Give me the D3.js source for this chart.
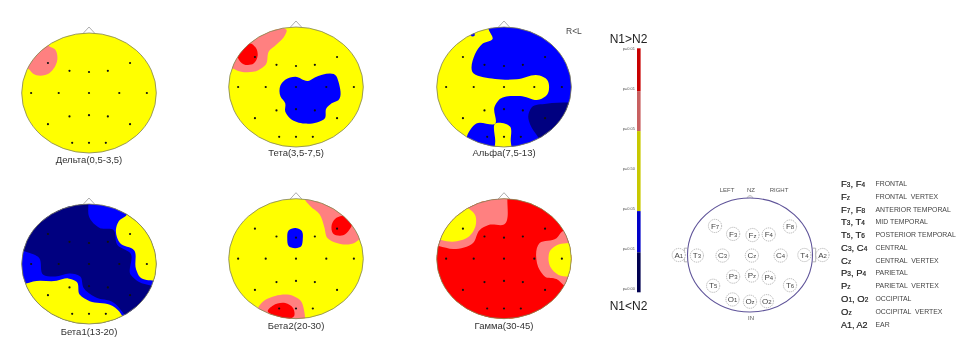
<!DOCTYPE html>
<html><head><meta charset="utf-8">
<script src="https://cdn.jsdelivr.net/npm/d3@7"></script>
<style>
html,body{margin:0;padding:0;background:#fff}
svg{display:block;font-family:"Liberation Sans",Arial,sans-serif;filter:blur(0.5px)}
</style></head><body>
<svg id="chart" width="964" height="358"></svg>
<script>
// electrode sites of the 10-20 montage, % of head radius
const sites = [[-61,-50],[-29,-37],[0,-35],[28,-37],[61,-50],[-86,0],[-45,0],[0,0],[45,0],[86,0],
  [-29,39],[0,37],[28,39],[-61,52],[61,52],[-25,83],[0,83],[25,83]];
const classColors = {yellow:"#ffff00",pink:"#ff8080",red:"#ff0000",blue:"#0000ff",navy:"#000080"};

const deltaRegions = [
 ["pink",[[-60,-79],[-50,-72],[-47,-56],[-53,-40],[-59,-33],[-83,-32],[-89,-39],[-110,-50],[-100,-100],[-60,-95]]]
];
const thetaRegions = [
 ["pink",[[-19,-99],[-14,-95],[-16,-87],[-29,-71],[-40,-60],[-45,-37],[-56,-28],[-83,-26],[-94,-31],[-110,-40],[-100,-110],[-19,-115]]],
 ["red",[[-69,-73],[-59,-64],[-57,-52],[-63,-39],[-78,-38],[-86,-48],[-87,-54],[-78,-64]]],
 ["blue",[[-23,-3],[-16,-12],[-1,-17],[18,-10],[28,-16],[60,-18],[63,-9],[63,22],[53,27],[45,36],[43,52],[31,59],[13,61],[-9,52],[-16,41],[-16,27],[-23,16]]]
];
const alphaRegions = [
 ["blue",[[-23,-97],[-17,-80],[-32,-72],[-43,-55],[-47,-25],[-18,-14],[19,-13],[53,-19],[64,-12],[64,13],[53,21],[24,15],[-8,22],[-14,33],[-13,61],[-41,61],[-55,82],[-55,115],[120,115],[120,-115],[-23,-115]]],
 ["yellow",[[-13,61],[9,66],[10,90],[11,115],[-13,115],[-13,90]]],
 ["navy",[[41,34],[63,28],[96,26],[120,26],[120,120],[60,100],[51,84],[39,63],[36,49]]],
 ["blue",[[-49,-90],[-44,-90],[-44,-85],[-49,-85]]]
];
const beta1Regions = [
 ["blue",[[-120,-120],[120,-120],[120,120],[-120,120]]],
 ["navy",[[-1,-99],[0,-79],[16,-60],[36,-57],[42,-32],[62,-17],[62,18],[73,29],[96,37],[115,45],[70,105],[55,87],[36,64],[9,55],[-8,40],[-13,21],[-28,16],[-50,21],[-68,18],[-74,-10],[-98,-22],[-115,-30],[-100,-110],[-1,-115]]],
 ["yellow",[[56,-82],[44,-71],[40,-57],[46,-35],[67,-23],[70,9],[76,22],[97,28],[115,30],[115,-90],[56,-100]]],
 ["yellow",[[-95,33],[-83,29],[-48,28],[-31,24],[-18,30],[-14,51],[1,62],[31,68],[39,73],[49,86],[50,115],[-115,115],[-115,35]]]
];
const beta2Regions = [
 ["pink",[[13,-99],[21,-88],[35,-74],[42,-53],[47,-34],[58,-27],[88,-27],[94,-32],[115,-35],[110,-110],[13,-115]]],
 ["red",[[68,-71],[83,-56],[79,-48],[70,-39],[55,-42],[53,-56],[58,-66]]],
 ["blue",[[-11,-47],[-1,-51],[8,-47],[10,-31],[8,-21],[-11,-21],[-13,-34]]],
 ["pink",[[-56,81],[-46,69],[-31,62],[-4,62],[7,70],[12,86],[12,115],[-56,115]]],
 ["red",[[-42,87],[-34,78],[-16,74],[-4,83],[-3,96],[-11,101],[-26,97]]]
];
const gammaRegions = [
 ["red",[[-120,-120],[120,-120],[120,120],[-120,120]]],
 ["pink",[[-97,-21],[-75,-16],[-46,-26],[-36,-48],[-23,-56],[0,-57],[5,-100],[5,-115],[-100,-115],[-115,-25]]],
 ["yellow",[[-53,-84],[-43,-73],[-42,-56],[-53,-36],[-70,-29],[-93,-31],[-110,-40],[-70,-100]]],
 ["pink",[[86,-45],[78,-34],[53,-26],[53,19],[61,30],[78,34],[91,46],[115,50],[115,-50]]],
 ["yellow",[[82,-24],[69,-14],[69,14],[81,27],[96,30],[115,30],[115,-30],[96,-26]]]
];
const bandNames = ["Дельта(0,5-3,5)","Тета(3,5-7,5)","Альфа(7,5-13)","Бета1(13-20)","Бета2(20-30)","Гамма(30-45)"];
const bandRegions = [deltaRegions,thetaRegions,alphaRegions,beta1Regions,beta2Regions,gammaRegions];

// colour bar
const barLevels = [0,1,2,3,4,5,6];
const barLabels = ["p=0.01","p=0.01","p=0.05","p=0.50","p=0.05","p=0.01","p=0.00"];
const barClasses = [[0,1.07,"#c80000"],[1.07,2.07,"#c86060"],[2.07,4.07,"#c8c800"],[4.07,5.1,"#0000c8"],[5.1,6.1,"#000050"]];

// schema
const schemaSites = ["F7","F3","Fz","F4","F8","A1","T3","C3","Cz","C4","T4","A2","P3","Pz","P4","T5","T6","O1","Oz","O2"];
const schemaX = [-56,-27,4,30,64,-114,-85,-44,3,49,87,116,-27,3,30,-59,64,-28,0,27];
const schemaY = [-51,-37,-35,-36,-50,0,1,1,1,1,0,0,38,36,40,54,53,78,82,81];
const legendSites = ["F3, F4","Fz","F7, F8","T3, T4","T5, T6","C3, C4","Cz","P3, P4","Pz","O1, O2","Oz","A1, A2"];
const legendNames = ["FRONTAL","FRONTAL  VERTEX","ANTERIOR TEMPORAL","MID TEMPORAL","POSTERIOR TEMPORAL","CENTRAL","CENTRAL  VERTEX","PARIETAL","PARIETAL  VERTEX","OCCIPITAL","OCCIPITAL  VERTEX","EAR"];

const svg = d3.select("#chart");
const layout = [[89,93,163],[296,87,156],[504,87,156],[89,264,335],[296,258.7,329],[504,258.7,329]];
const rx = 67.3, ry = 60;

bandNames.forEach((name,i)=>{
  const [cx,cy,ly] = layout[i];
  const x = d3.scaleLinear().domain([-100,100]).range([cx-rx,cx+rx]);
  const y = d3.scaleLinear().domain([-100,100]).range([cy-ry,cy+ry]);
  const g = svg.append("g");
  const clipId = "head"+i;
  svg.append("clipPath").attr("id",clipId).append("ellipse")
     .attr("cx",cx).attr("cy",cy).attr("rx",rx).attr("ry",ry);
  const line = d3.line().x(d=>x(d[0])).y(d=>y(d[1])).curve(d3.curveCatmullRomClosed.alpha(1));
  g.append("path").attr("d",d3.line().x(d=>x(d[0])).y(d=>y(d[1]))([[-9,-99],[0,-110],[9,-99]]))
    .attr("fill","#fff").attr("stroke","#999").attr("stroke-width",0.8);
  g.append("ellipse").attr("cx",cx).attr("cy",cy).attr("rx",rx).attr("ry",ry).attr("fill",classColors.yellow);
  g.append("g").attr("clip-path",`url(#${clipId})`).selectAll("path").data(bandRegions[i]).join("path")
    .attr("d",d=>line(d[1])).attr("fill",d=>classColors[d[0]]);
  g.append("ellipse").attr("cx",cx).attr("cy",cy).attr("rx",rx).attr("ry",ry)
    .attr("fill","none").attr("stroke","#808060").attr("stroke-width",0.8);
  g.selectAll("circle").data(sites).join("circle")
    .attr("cx",d=>x(d[0])).attr("cy",d=>y(d[1])).attr("r",1.1).attr("fill","#111");
  g.append("text").attr("x",cx).attr("y",ly).attr("text-anchor","middle")
    .attr("font-size",9.5).attr("fill","#333").text(name);
});

svg.append("text").attr("x",566).attr("y",34).attr("font-size",8.5).attr("fill","#444").text("R<L");

// colour bar
const barY = d3.scaleLinear().domain([0,6]).range([48.3,288.3]);
svg.append("g").selectAll("rect").data(barClasses).join("rect")
  .attr("x",637).attr("width",3.6)
  .attr("y",d=>barY(d[0])).attr("height",d=>barY(d[1])-barY(d[0])).attr("fill",d=>d[2]);
svg.append("g").selectAll("text").data(barLevels).join("text")
  .attr("x",635).attr("y",d=>barY(d)+1.2).attr("text-anchor","end")
  .attr("font-size",4).attr("fill","#555").text(d=>barLabels[d]);
svg.append("text").attr("x",628.5).attr("y",43).attr("text-anchor","middle").attr("font-size",12).attr("fill","#222").text("N1>N2");
svg.append("text").attr("x",628.5).attr("y",310).attr("text-anchor","middle").attr("font-size",12).attr("fill","#222").text("N1<N2");

// smaller trailing characters, as in the reference's site labels
function siteLabel(sel, size, smallSize, keepFull){
  sel.each(function(d){
    const t = d3.select(this);
    if (keepFull(d)) { t.text(d); return; }
    d.split(", ").forEach((part,k)=>{
      if (k) t.append("tspan").attr("font-size",size).text(", ");
      t.append("tspan").attr("font-size",size).text(part[0]);
      t.append("tspan").attr("font-size",smallSize).text(part.slice(1));
    });
  });
}

// schema
const sx = d3.scaleLinear().domain([-100,100]).range([687.5,812.5]);
const sy = d3.scaleLinear().domain([-100,100]).range([198,312]);
const sg = svg.append("g");
sg.append("path").attr("d",d3.line().x(d=>sx(d[0])).y(d=>sy(d[1]))([[-5,-100],[-2,-104],[2,-104],[5,-100]]))
  .attr("fill","#eee").attr("stroke","#aaa").attr("stroke-width",0.7);
sg.append("ellipse").attr("cx",sx(0)).attr("cy",sy(0)).attr("rx",62.5).attr("ry",57)
  .attr("fill","none").attr("stroke","#5f5499").attr("stroke-width",1.1);
[[-102,-12,-100,12],[102,-12,100,12]].forEach(e=>{
  sg.append("path").attr("d",d3.line().x(d=>sx(d[0])).y(d=>sy(d[1]))([[e[2],e[1]],[e[0]*1.03,e[1]],[e[0]*1.03,e[3]],[e[2],e[3]]]))
    .attr("fill","none").attr("stroke","#999").attr("stroke-width",0.7);
});
const node = sg.selectAll("g.site").data(schemaSites).join("g").attr("class","site")
  .attr("transform",(d,i)=>`translate(${sx(schemaX[i])},${sy(schemaY[i])})`);
node.append("circle").attr("r",6.6).attr("fill","#fff").attr("stroke","#8a8a8a").attr("stroke-width",0.6).attr("stroke-dasharray","1.2 0.8");
node.append("text").attr("y",2.6).attr("text-anchor","middle").attr("fill","#444")
  .call(siteLabel,8,6,d=>false);
[["LEFT",727,192],["NZ",751,192],["RIGHT",779,192],["IN",751,320]].forEach(t=>{
  sg.append("text").attr("x",t[1]).attr("y",t[2]).attr("text-anchor","middle").attr("font-size",6).attr("fill","#555").text(t[0]);
});

// legend
const legendY = d3.scalePoint().domain(legendSites).range([187,327.5]);
svg.append("g").selectAll("text").data(legendSites).join("text")
  .attr("x",841).attr("y",d=>legendY(d)).attr("font-size",9).attr("fill","#222").attr("stroke","#222").attr("stroke-width",0.2)
  .call(siteLabel,9.5,6.5,d=>d==="A1, A2");
svg.append("g").selectAll("text").data(legendNames).join("text")
  .attr("x",875.5).attr("y",(d,i)=>legendY(legendSites[i])-1).attr("font-size",6.9).attr("fill","#444").style("white-space","pre").text(d=>d);
</script>
</body></html>
